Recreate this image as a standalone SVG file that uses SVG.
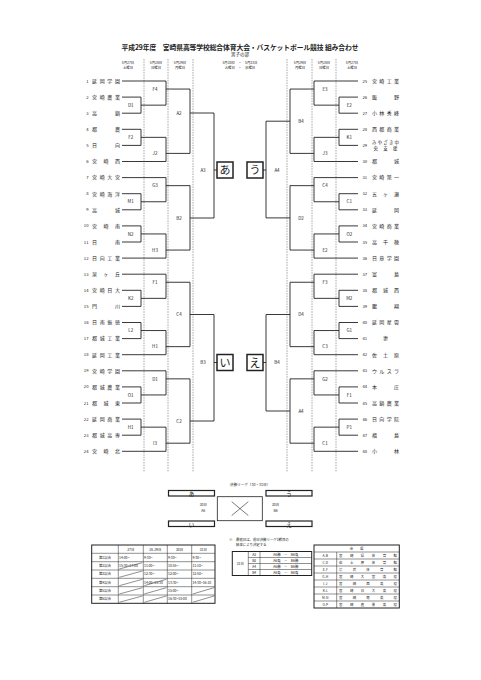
<svg xmlns="http://www.w3.org/2000/svg" width="481" height="680" viewBox="0 0 481 680">
<style>
text{font-family:"Noto Sans CJK JP","Noto Sans",sans-serif;fill:#222}
.ln{fill:none;stroke:#222;stroke-width:0.9}
.dash{stroke:#555;stroke-width:0.5;stroke-dasharray:1.6 1}
.lb{font-size:4.5px;text-anchor:middle}
.nm{font-size:5px}
.noL{font-size:4.2px;text-anchor:end}
.noR{font-size:4.2px}
.dt{font-size:3.4px;text-anchor:middle}
.box{fill:#fff;stroke:#222;stroke-width:1.5}
.kana{font-size:11px;text-anchor:middle}
.bar{fill:#fff;stroke:#222;stroke-width:1.2}
.tb{fill:none;stroke:#222;stroke-width:0.5}
.tbo{fill:none;stroke:#222;stroke-width:1}
.ts{font-size:3.4px}
.tc{font-size:3.4px;text-anchor:middle}
</style>
<rect width="481" height="680" fill="#fff"/>
<g id="title">
<text x="240" y="50" font-size="6.8" font-weight="bold" text-anchor="middle" textLength="237" lengthAdjust="spacing">平成29年度　宮崎県高等学校総合体育大会・バスケットボール競技 組み合わせ</text>
<text x="240" y="56" font-size="4.5" text-anchor="middle">男子の部</text>
</g>
<g id="dates">
<text class="dt" x="128" y="64">5月27日</text><text class="dt" x="128" y="69">土曜日</text>
<text class="dt" x="156" y="64">5月28日</text><text class="dt" x="156" y="69">日曜日</text>
<text class="dt" x="180" y="64">5月29日</text><text class="dt" x="180" y="69">月曜日</text>
<text class="dt" x="240" y="64">5月30日　・　5月31日</text><text class="dt" x="240" y="69">火曜日　・　水曜日</text>
<text class="dt" x="300" y="64">5月29日</text><text class="dt" x="300" y="69">月曜日</text>
<text class="dt" x="324" y="64">5月28日</text><text class="dt" x="324" y="69">日曜日</text>
<text class="dt" x="352" y="64">5月27日</text><text class="dt" x="352" y="69">土曜日</text>
</g>
<g id="day-dividers">
<line class="dash" x1="144" y1="59" x2="144" y2="472"/>
<line class="dash" x1="168" y1="59" x2="168" y2="472"/>
<line class="dash" x1="193" y1="59" x2="193" y2="472"/>
<line class="dash" x1="287" y1="59" x2="287" y2="472"/>
<line class="dash" x1="312" y1="59" x2="312" y2="472"/>
<line class="dash" x1="336" y1="59" x2="336" y2="472"/>
</g>
<g id="connectors">
<path class="ln" d="M122,81 H166 V105.15 H141 M122,97.1 H141 V113.2 H122 M166,89.05 H190 V153.4 H166 M122,129.3 H141 V145.4 H122 M141,137.35 H166 V161.5 H122 M190,113 H214"/>
<path class="ln" d="M122,177.6 H166 V201.75 H141 M122,193.7 H141 V209.8 H122 M166,185.65 H190 V250.05 H166 M122,225.9 H141 V242 H122 M141,233.95 H166 V258.1 H122 M190,218 H214"/>
<path class="ln" d="M122,274.2 H166 V298.35 H141 M122,290.3 H141 V306.4 H122 M166,282.25 H190 V346.65 H166 M122,322.5 H141 V338.6 H122 M141,330.55 H166 V354.7 H122 M190,314.5 H214"/>
<path class="ln" d="M122,370.8 H166 V394.95 H141 M122,386.9 H141 V403 H122 M166,378.85 H190 V443.2 H166 M122,419.1 H141 V435.2 H122 M141,427.15 H166 V451.3 H122 M190,421 H214"/>
<path class="ln" d="M214,113 V218 M214,170 H217 M214,314.5 V421 M214,362.5 H217"/>
<path class="ln" d="M358,81 H314 V105.15 H339 M358,97.1 H339 V113.2 H358 M314,89.05 H290 V153.4 H314 M358,129.3 H339 V145.4 H358 M339,137.35 H314 V161.5 H358 M290,121.2 H266"/>
<path class="ln" d="M358,177.6 H314 V201.75 H339 M358,193.7 H339 V209.8 H358 M314,185.65 H290 V250.05 H314 M358,225.9 H339 V242 H358 M339,233.95 H314 V258.1 H358 M290,217.9 H266"/>
<path class="ln" d="M358,274.2 H314 V298.35 H339 M358,290.3 H339 V306.4 H358 M314,282.25 H290 V346.65 H314 M358,322.5 H339 V338.6 H358 M339,330.55 H314 V354.7 H358 M290,314.5 H266"/>
<path class="ln" d="M358,370.8 H314 V394.95 H339 M358,386.9 H339 V403 H358 M314,378.85 H290 V443.2 H314 M358,419.1 H339 V435.2 H358 M339,427.15 H314 V451.3 H358 M290,411 H266"/>
<path class="ln" d="M266,121.2 V217.9 M266,170 H263 M266,314.5 V411 M266,362.5 H263"/>
</g>
<g id="teams-left">
<g id="team-1"><text class="noL" x="88.5" y="82.5">1</text><text class="nm" x="92" y="82.8" textLength="28" lengthAdjust="spacing">延岡学園</text></g>
<g id="team-2"><text class="noL" x="88.5" y="98.6">2</text><text class="nm" x="92" y="98.9" textLength="28" lengthAdjust="spacing">宮崎農業</text></g>
<g id="team-3"><text class="noL" x="88.5" y="114.7">3</text><text class="nm" x="92" y="115" textLength="28" lengthAdjust="spacing">高鍋</text></g>
<g id="team-4"><text class="noL" x="88.5" y="130.8">4</text><text class="nm" x="92" y="131.1" textLength="28" lengthAdjust="spacing">都農</text></g>
<g id="team-5"><text class="noL" x="88.5" y="146.9">5</text><text class="nm" x="92" y="147.2" textLength="28" lengthAdjust="spacing">日向</text></g>
<g id="team-6"><text class="noL" x="88.5" y="163">6</text><text class="nm" x="92" y="163.3" textLength="28" lengthAdjust="spacing">宮崎西</text></g>
<g id="team-7"><text class="noL" x="88.5" y="179.1">7</text><text class="nm" x="92" y="179.4" textLength="28" lengthAdjust="spacing">宮崎大宮</text></g>
<g id="team-8"><text class="noL" x="88.5" y="195.2">8</text><text class="nm" x="92" y="195.5" textLength="28" lengthAdjust="spacing">宮崎海洋</text></g>
<g id="team-9"><text class="noL" x="88.5" y="211.3">9</text><text class="nm" x="92" y="211.6" textLength="28" lengthAdjust="spacing">高城</text></g>
<g id="team-10"><text class="noL" x="88.5" y="227.4">10</text><text class="nm" x="92" y="227.7" textLength="28" lengthAdjust="spacing">宮崎南</text></g>
<g id="team-11"><text class="noL" x="88.5" y="243.5">11</text><text class="nm" x="92" y="243.8" textLength="28" lengthAdjust="spacing">日南</text></g>
<g id="team-12"><text class="noL" x="88.5" y="259.6">12</text><text class="nm" x="92" y="259.9" textLength="28" lengthAdjust="spacing">日向工業</text></g>
<g id="team-13"><text class="noL" x="88.5" y="275.7">13</text><text class="nm" x="92" y="276" textLength="28" lengthAdjust="spacing">泉ヶ丘</text></g>
<g id="team-14"><text class="noL" x="88.5" y="291.8">14</text><text class="nm" x="92" y="292.1" textLength="28" lengthAdjust="spacing">宮崎日大</text></g>
<g id="team-15"><text class="noL" x="88.5" y="307.9">15</text><text class="nm" x="92" y="308.2" textLength="28" lengthAdjust="spacing">門川</text></g>
<g id="team-16"><text class="noL" x="88.5" y="324">16</text><text class="nm" x="92" y="324.3" textLength="28" lengthAdjust="spacing">日南振徳</text></g>
<g id="team-17"><text class="noL" x="88.5" y="340.1">17</text><text class="nm" x="92" y="340.4" textLength="28" lengthAdjust="spacing">都城工業</text></g>
<g id="team-18"><text class="noL" x="88.5" y="356.2">18</text><text class="nm" x="92" y="356.5" textLength="28" lengthAdjust="spacing">延岡工業</text></g>
<g id="team-19"><text class="noL" x="88.5" y="372.3">19</text><text class="nm" x="92" y="372.6" textLength="28" lengthAdjust="spacing">宮崎学園</text></g>
<g id="team-20"><text class="noL" x="88.5" y="388.4">20</text><text class="nm" x="92" y="388.7" textLength="28" lengthAdjust="spacing">都城農業</text></g>
<g id="team-21"><text class="noL" x="88.5" y="404.5">21</text><text class="nm" x="92" y="404.8" textLength="28" lengthAdjust="spacing">都城東</text></g>
<g id="team-22"><text class="noL" x="88.5" y="420.6">22</text><text class="nm" x="92" y="420.9" textLength="28" lengthAdjust="spacing">延岡商業</text></g>
<g id="team-23"><text class="noL" x="88.5" y="436.7">23</text><text class="nm" x="92" y="437" textLength="28" lengthAdjust="spacing">都城高専</text></g>
<g id="team-24"><text class="noL" x="88.5" y="452.8">24</text><text class="nm" x="92" y="453.1" textLength="28" lengthAdjust="spacing">宮崎北</text></g>
</g>
<g id="teams-right">
<g id="team-25"><text class="noR" x="362.5" y="82.5">25</text><text class="nm" x="372" y="82.8" textLength="27" lengthAdjust="spacing">宮崎工業</text></g>
<g id="team-26"><text class="noR" x="362.5" y="98.6">26</text><text class="nm" x="372" y="98.9" textLength="27" lengthAdjust="spacing">飯野</text></g>
<g id="team-27"><text class="noR" x="362.5" y="114.7">27</text><text class="nm" x="372" y="115" textLength="27" lengthAdjust="spacing">小林秀峰</text></g>
<g id="team-28"><text class="noR" x="362.5" y="130.8">28</text><text class="nm" x="372" y="131.1" textLength="27" lengthAdjust="spacing">西都商業</text></g>
<g id="team-29"><text class="noR" x="362.5" y="146.9">29</text><text x="372" y="144" font-size="4.4" textLength="27" lengthAdjust="spacing">みやざき中</text><text x="373.5" y="149.5" font-size="4.4" textLength="24" lengthAdjust="spacing">央支援</text></g>
<g id="team-30"><text class="noR" x="362.5" y="163">30</text><text class="nm" x="372" y="163.3" textLength="27" lengthAdjust="spacing">都城</text></g>
<g id="team-31"><text class="noR" x="362.5" y="179.1">31</text><text class="nm" x="372" y="179.4" textLength="27" lengthAdjust="spacing">宮崎第一</text></g>
<g id="team-32"><text class="noR" x="362.5" y="195.2">32</text><text class="nm" x="372" y="195.5" textLength="27" lengthAdjust="spacing">五ヶ瀬</text></g>
<g id="team-33"><text class="noR" x="362.5" y="211.3">33</text><text class="nm" x="372" y="211.6" textLength="27" lengthAdjust="spacing">延岡</text></g>
<g id="team-34"><text class="noR" x="362.5" y="227.4">34</text><text class="nm" x="372" y="227.7" textLength="27" lengthAdjust="spacing">宮崎商業</text></g>
<g id="team-35"><text class="noR" x="362.5" y="243.5">35</text><text class="nm" x="372" y="243.8" textLength="27" lengthAdjust="spacing">高千穂</text></g>
<g id="team-36"><text class="noR" x="362.5" y="259.6">36</text><text class="nm" x="372" y="259.9" textLength="27" lengthAdjust="spacing">日章学園</text></g>
<g id="team-37"><text class="noR" x="362.5" y="275.7">37</text><text class="nm" x="372" y="276" textLength="27" lengthAdjust="spacing">富島</text></g>
<g id="team-38"><text class="noR" x="362.5" y="291.8">38</text><text class="nm" x="372" y="292.1" textLength="27" lengthAdjust="spacing">都城西</text></g>
<g id="team-39"><text class="noR" x="362.5" y="307.9">39</text><text class="nm" x="372" y="308.2" textLength="27" lengthAdjust="spacing">鵬翔</text></g>
<g id="team-40"><text class="noR" x="362.5" y="324">40</text><text class="nm" x="372" y="324.3" textLength="27" lengthAdjust="spacing">延岡星雲</text></g>
<g id="team-41"><text class="noR" x="362.5" y="340.1">41</text><text class="nm" x="385.5" y="340.4" text-anchor="middle">妻</text></g>
<g id="team-42"><text class="noR" x="362.5" y="356.2">42</text><text class="nm" x="372" y="356.5" textLength="27" lengthAdjust="spacing">佐土原</text></g>
<g id="team-43"><text class="noR" x="362.5" y="372.3">43</text><text class="nm" x="372" y="372.6" textLength="27" lengthAdjust="spacing">ウルスラ</text></g>
<g id="team-44"><text class="noR" x="362.5" y="388.4">44</text><text class="nm" x="372" y="388.7" textLength="27" lengthAdjust="spacing">本庄</text></g>
<g id="team-45"><text class="noR" x="362.5" y="404.5">45</text><text class="nm" x="372" y="404.8" textLength="27" lengthAdjust="spacing">高鍋農業</text></g>
<g id="team-46"><text class="noR" x="362.5" y="420.6">46</text><text class="nm" x="372" y="420.9" textLength="27" lengthAdjust="spacing">日向学院</text></g>
<g id="team-47"><text class="noR" x="362.5" y="436.7">47</text><text class="nm" x="372" y="437" textLength="27" lengthAdjust="spacing">福島</text></g>
<g id="team-48"><text class="noR" x="362.5" y="452.8">48</text><text class="nm" x="372" y="453.1" textLength="27" lengthAdjust="spacing">小林</text></g>
</g>
<g id="match-labels-left">
<text class="lb" x="130.7" y="106.8">D1</text><text class="lb" x="130.7" y="139">F2</text>
<text class="lb" x="130.7" y="203.4">M1</text><text class="lb" x="130.7" y="235.6">N2</text>
<text class="lb" x="130.7" y="300">K2</text><text class="lb" x="130.7" y="332.2">L2</text>
<text class="lb" x="130.7" y="396.6">O1</text><text class="lb" x="130.7" y="428.8">H1</text>
<text class="lb" x="155" y="90.7">F4</text><text class="lb" x="155" y="155">J2</text>
<text class="lb" x="155" y="187.3">G3</text><text class="lb" x="155" y="251.7">H3</text>
<text class="lb" x="155" y="283.9">F1</text><text class="lb" x="155" y="348.3">H1</text>
<text class="lb" x="155" y="380.5">D1</text><text class="lb" x="155" y="444.8">I3</text>
<text class="lb" x="179" y="114.6">A2</text><text class="lb" x="179" y="219.6">B2</text>
<text class="lb" x="179" y="316.1">C4</text><text class="lb" x="179" y="422.6">C2</text>
<text class="lb" x="203" y="171.6">A3</text><text class="lb" x="203" y="364.1">B3</text>
</g>
<g id="match-labels-right">
<text class="lb" x="349.3" y="106.8">E2</text><text class="lb" x="349.3" y="139">K1</text>
<text class="lb" x="349.3" y="203.4">C1</text><text class="lb" x="349.3" y="235.6">O2</text>
<text class="lb" x="349.3" y="300">M2</text><text class="lb" x="349.3" y="332.2">G1</text>
<text class="lb" x="349.3" y="396.6">F1</text><text class="lb" x="349.3" y="428.8">P1</text>
<text class="lb" x="325" y="90.7">E3</text><text class="lb" x="325" y="155">J3</text>
<text class="lb" x="325" y="187.3">C4</text><text class="lb" x="325" y="251.7">E2</text>
<text class="lb" x="325" y="283.9">F3</text><text class="lb" x="325" y="348.3">C3</text>
<text class="lb" x="325" y="380.5">G2</text><text class="lb" x="325" y="444.8">C1</text>
<text class="lb" x="301" y="122.8">B4</text><text class="lb" x="301" y="219.5">D2</text>
<text class="lb" x="301" y="316.1">D4</text><text class="lb" x="301" y="412.6">A4</text>
<text class="lb" x="277" y="171.6">A4</text><text class="lb" x="277" y="364.1">B4</text>
</g>
<g id="block-a"><rect class="box" x="217" y="162" width="16" height="16"/><text class="kana" x="225" y="174">あ</text></g>
<g id="block-i"><rect class="box" x="217" y="354.5" width="16" height="16"/><text class="kana" x="225" y="366.5">い</text></g>
<g id="block-u"><rect class="box" x="247" y="162" width="16" height="16"/><text class="kana" x="255" y="174">う</text></g>
<g id="block-e"><rect class="box" x="247" y="354.5" width="16" height="16"/><text class="kana" x="255" y="366.5">え</text></g>
<g id="final-league">
<text x="250" y="486" font-size="3.6" text-anchor="middle">決勝リーグ（30・31日）</text>
<rect class="bar" x="168.5" y="490.5" width="46" height="5.5"/><text x="191.5" y="496.3" font-size="5.5" text-anchor="middle">あ</text>
<rect class="bar" x="266" y="490.5" width="46" height="5.5"/><text x="289" y="496.3" font-size="5.5" text-anchor="middle">う</text>
<rect class="bar" x="168.5" y="521" width="46" height="5.5"/><text x="191.5" y="526.8" font-size="5.5" text-anchor="middle">い</text>
<rect class="bar" x="266" y="521" width="46" height="5.5"/><text x="289" y="526.8" font-size="5.5" text-anchor="middle">え</text>
<rect x="217.3" y="496.7" width="45" height="24" fill="none" stroke="#222" stroke-width="0.8"/>
<path d="M231.7,501.7 L248.3,515.5 M248.3,501.7 L231.7,515.5" fill="none" stroke="#222" stroke-width="0.6"/>
<text x="203.3" y="506" font-size="3.4" text-anchor="middle">30日</text><text x="203.3" y="511.5" font-size="3.4" text-anchor="middle">A6</text>
<text x="275.5" y="506" font-size="3.4" text-anchor="middle">30日</text><text x="275.5" y="511.5" font-size="3.4" text-anchor="middle">B6</text>
</g>
<g id="schedule-table">
<rect class="tbo" x="91.7" y="545" width="123.3" height="58.3"/>
<path class="tb" d="M91.7,553.3 H215 M91.7,561.7 H215 M91.7,570 H215 M91.7,578.3 H215 M91.7,586.7 H215 M91.7,595 H215 M118.3,545 V603.3 M143.3,545 V603.3 M167.3,545 V603.3 M191.7,545 V603.3"/>
<path class="tb" d="M119.3,569 L142.3,562.7 M119.3,577.3 L142.3,571 M119.3,585.7 L142.3,579.3 M144.3,585.7 L166.3,579.3 M119.3,594 L142.3,587.7 M144.3,594 L166.3,587.7 M192.7,594 L214,587.7 M119.3,602.3 L142.3,596 M144.3,602.3 L166.3,596 M192.7,602.3 L214,596"/>
<text class="tc" x="130.8" y="550.5">27日</text><text class="tc" x="155.3" y="550.5">28-29日</text><text class="tc" x="179.5" y="550.5">30日</text><text class="tc" x="203.3" y="550.5">31日</text>
<text class="tc" x="105" y="558.8">第1試合</text><text class="tc" x="105" y="567.1">第2試合</text><text class="tc" x="105" y="575.4">第3試合</text><text class="tc" x="105" y="583.8">第4試合</text><text class="tc" x="105" y="592.1">第5試合</text><text class="tc" x="105" y="600.4">第6試合</text>
<text class="ts" x="119" y="558.8">14:00~</text><text class="ts" x="144" y="558.8">9:30~</text><text class="ts" x="168" y="558.8">9:30~</text><text class="ts" x="192.4" y="558.8">9:30~</text>
<text class="ts" x="119" y="567.1">15:30~17:00</text><text class="ts" x="144" y="567.1">11:00~</text><text class="ts" x="168" y="567.1">10:55~</text><text class="ts" x="192.4" y="567.1">11:10~</text>
<text class="ts" x="144" y="575.4">12:30~</text><text class="ts" x="168" y="575.4">12:00~</text><text class="ts" x="192.4" y="575.4">12:50~</text>
<text class="ts" x="144" y="583.8">14:00~15:30</text><text class="ts" x="168" y="583.8">13:30~</text><text class="ts" x="192.4" y="583.8">14:30~16:10</text>
<text class="ts" x="168" y="592.1">15:00~</text>
<text class="ts" x="168" y="600.4">16:30~18:00</text>
</g>
<g id="note">
<text x="229" y="541" font-size="3.6">※</text>
<text x="236" y="541" font-size="3.4">最終日は、前日決勝リーグ1戦目の</text>
<text x="236" y="546" font-size="3.4">結果により決定する</text>
</g>
<g id="final-day-table">
<rect class="tbo" x="232.3" y="551.5" width="79.4" height="24"/>
<path class="tb" d="M248.3,557.5 H311.7 M248.3,563.5 H311.7 M248.3,569.5 H311.7 M248.3,551.5 V575.5 M260,551.5 V575.5"/>
<text class="tc" x="240.3" y="564.7">31日</text>
<text class="tc" x="254.2" y="555.7">A2</text><text class="tc" x="254.2" y="561.7">B2</text><text class="tc" x="254.2" y="567.7">A4</text><text class="tc" x="254.2" y="573.7">B4</text>
<text class="tc" x="285.8" y="555.7">A6勝　－　B6負</text><text class="tc" x="285.8" y="561.7">A6負　－　B6勝</text><text class="tc" x="285.8" y="567.7">A6勝　－　B6勝</text><text class="tc" x="285.8" y="573.7">A6負　－　B6負</text>
</g>
<g id="venue-table">
<rect class="tbo" x="314" y="545" width="85.3" height="63"/>
<path class="tb" d="M314,552 H399.3 M314,559 H399.3 M314,566 H399.3 M314,573 H399.3 M314,580 H399.3 M314,587 H399.3 M314,594 H399.3 M314,601 H399.3 M336.7,552 V608"/>
<text class="tc" x="356.6" y="549.7">会　　場</text>
<text class="tc" x="325.3" y="556.7">A-B</text><text class="ts" x="339" y="556.7" textLength="58" lengthAdjust="spacing">宮崎県体育館</text>
<text class="tc" x="325.3" y="563.7">C-D</text><text class="ts" x="339" y="563.7" textLength="58" lengthAdjust="spacing">佐土原体育館</text>
<text class="tc" x="325.3" y="570.7">E-F</text><text class="ts" x="339" y="570.7" textLength="58" lengthAdjust="spacing">清武体育館</text>
<text class="tc" x="325.3" y="577.7">G-H</text><text class="ts" x="339" y="577.7" textLength="58" lengthAdjust="spacing">宮崎大宮高校</text>
<text class="tc" x="325.3" y="584.7">I-J</text><text class="ts" x="339" y="584.7" textLength="58" lengthAdjust="spacing">宮崎西高校</text>
<text class="tc" x="325.3" y="591.7">K-L</text><text class="ts" x="339" y="591.7" textLength="58" lengthAdjust="spacing">宮崎日大高校</text>
<text class="tc" x="325.3" y="598.7">M-N</text><text class="ts" x="339" y="598.7" textLength="58" lengthAdjust="spacing">宮崎南高校</text>
<text class="tc" x="325.3" y="605.7">O-P</text><text class="ts" x="339" y="605.7" textLength="58" lengthAdjust="spacing">宮崎農業高校</text>
</g>
</svg>
